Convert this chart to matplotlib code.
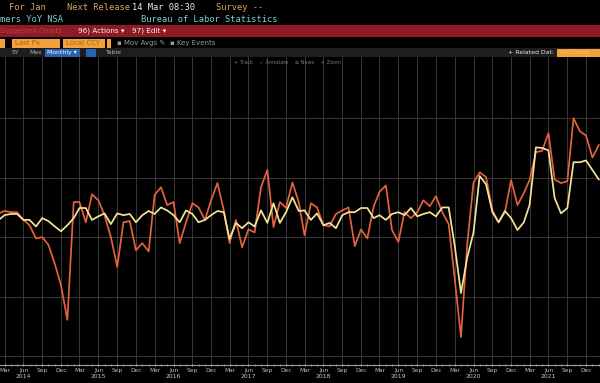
import matplotlib
matplotlib.use('Agg')
import matplotlib.pyplot as plt
import matplotlib.dates as mdates
from matplotlib.patches import Rectangle
import pandas as pd

# monthly readings, Jan 2014 .. Feb 2022 (units of one grid step)
months = pd.date_range('2014-01-01', periods=98, freq='MS')

red_series = [
    0.29, 0.40, 0.44, 0.42, 0.42, 0.29, 0.20, -0.02, 0.00, -0.13,
    -0.45, -0.81, -1.39, 0.59, 0.59, 0.25, 0.72, 0.62, 0.37, 0.00,
    -0.50, 0.25, 0.27, -0.22, -0.10, -0.24, 0.71, 0.84, 0.54, 0.59,
    -0.10, 0.25, 0.57, 0.50, 0.29, 0.62, 0.91, 0.45, -0.10, 0.29,
    -0.17, 0.13, 0.08, 0.84, 1.13, 0.17, 0.59, 0.49, 0.92, 0.59,
    0.03, 0.57, 0.50, 0.20, 0.18, 0.39, 0.45, 0.50, -0.15, 0.13,
    -0.02, 0.52, 0.76, 0.87, 0.12, -0.08, 0.42, 0.32, 0.42, 0.62,
    0.52, 0.69, 0.42, 0.22, -0.69, -1.68, -0.13, 0.92, 1.09, 1.01,
    0.45, 0.25, 0.42, 0.96, 0.54, 0.74, 0.96, 1.43, 1.45, 1.75,
    0.97, 0.91, 0.94, 2.00, 1.78, 1.71, 1.34, 1.55,
]

yellow_series = [
    0.25, 0.29, 0.37, 0.39, 0.39, 0.29, 0.29, 0.18, 0.32, 0.27,
    0.18, 0.10, 0.20, 0.32, 0.49, 0.49, 0.29, 0.35, 0.40, 0.22,
    0.40, 0.37, 0.39, 0.25, 0.37, 0.44, 0.39, 0.50, 0.45, 0.37,
    0.25, 0.45, 0.39, 0.25, 0.29, 0.37, 0.44, 0.42, -0.03, 0.24,
    0.15, 0.25, 0.18, 0.45, 0.24, 0.57, 0.24, 0.42, 0.67, 0.44,
    0.45, 0.29, 0.40, 0.20, 0.24, 0.15, 0.37, 0.42, 0.42, 0.49,
    0.49, 0.32, 0.37, 0.29, 0.39, 0.42, 0.37, 0.49, 0.35, 0.39,
    0.42, 0.35, 0.50, 0.50, -0.13, -0.94, -0.35, 0.08, 1.03, 0.89,
    0.42, 0.25, 0.44, 0.32, 0.12, 0.25, 0.54, 1.51, 1.50, 1.46,
    0.66, 0.40, 0.49, 1.26, 1.26, 1.29, 1.13, 0.97,
]

years = [2014, 2015, 2016, 2017, 2018, 2019, 2020, 2021]
grid_levels = [-2, -1, 0, 1, 2]

W, H = 600, 383
fig = plt.figure(figsize=(6, 3.83), dpi=100, facecolor='black')


def fx(x):
    return x / W


def fy(y):
    return 1 - y / H


def box(x0, y0, x1, y1, color):
    fig.add_artist(Rectangle((fx(x0), fy(y1)), fx(x1) - fx(x0), (y1 - y0) / H,
                             transform=fig.transFigure, facecolor=color,
                             edgecolor='none'))


def label(x, y, s, color, size=5.0, family='DejaVu Sans', **kw):
    fig.text(fx(x), fy(y), s, color=color, fontsize=size, family=family,
             va='center', ha=kw.pop('ha', 'left'), **kw)


# chart area
ax = fig.add_axes([0, fy(365), 1, (365 - 57) / H])
ax.set_facecolor('black')
ax.plot(months, red_series, color='#e6623d', lw=1.25, zorder=3)
ax.plot(months, yellow_series, color='#f4e49a', lw=1.25, zorder=4)

ax.set_xlim(pd.Timestamp('2014-02-07'), pd.Timestamp('2022-02-07'))
ax.set_ylim(-2.15, 3.03)
ax.set_yticks(grid_levels)
ax.tick_params(axis='y', length=0, labelleft=False)

ax.xaxis.set_major_locator(mdates.MonthLocator(bymonth=[3, 6, 9, 12]))
ax.xaxis.set_major_formatter(mdates.DateFormatter('%b'))
ax.xaxis.set_minor_locator(mdates.MonthLocator())
ax.tick_params(axis='x', which='major', colors='#bdbdbd', labelsize=4.2,
               pad=1.5, length=2, direction='inout')
ax.tick_params(axis='x', which='minor', colors='#9a9a9a', length=1.2,
               direction='inout')
ax.grid(True, which='major', color='#424242', lw=0.6)

for side in ['top', 'left', 'right']:
    ax.spines[side].set_visible(False)
ax.spines['bottom'].set_color('#a0a0a0')
ax.spines['bottom'].set_linestyle((0, (2, 1)))
ax.spines['bottom'].set_linewidth(0.8)

for yr in years:
    ax.text(pd.Timestamp(f'{yr}-06-01'), -(376 - 365) / (365 - 57), str(yr),
            transform=ax.get_xaxis_transform(), color='#c8c8c8',
            fontsize=4.4, ha='center', va='center')

ax.text(0.48, 1 - (62 - 57) / (365 - 57),
        '+ Track    \u2713 Annotate    \u2261 News    + Zoom',
        transform=ax.transAxes, color='#7a7a7a', fontsize=3.6,
        ha='center', va='center', family='DejaVu Sans')

# header rows
mono = 'DejaVu Sans Mono'
label(9, 7, 'For Jan', '#d9a35f', 6.3, mono)
label(67, 7, 'Next Release', '#d9a35f', 6.3, mono)
label(132, 7, '14 Mar 08:30', '#ececec', 6.3, mono)
label(216, 7, 'Survey --', '#d9a35f', 6.3, mono)
label(0, 19, 'mers YoY NSA', '#7ccfd0', 6.3, mono)
label(141, 19, 'Bureau of Labor Statistics', '#7ccfd0', 6.3, mono)

box(0, 25, 600, 37, '#8e1a26')
label(0, 31, 'Suggested Charts', '#b5404f', 5.0)
label(78, 31, '96) Actions \u25be', '#f4f4f4', 5.2)
label(132, 31, '97) Edit \u25be', '#f4f4f4', 5.2)

orange = '#f2a23a'
box(0, 38.5, 5, 47.5, orange)
box(12, 38.5, 60, 47.5, orange)
box(63, 38.5, 105, 47.5, orange)
box(107, 38.5, 111, 47.5, orange)
label(15, 43, 'Last Px', '#a8601a', 5.0)
label(66, 43, 'Local CCY', '#a8601a', 5.0)
label(117, 43, '\u25aa Mov Avgs \u270e', '#9a9a9a', 5.0)
label(170, 43, '\u25aa Key Events', '#9a9a9a', 5.0)

box(0, 48, 600, 57, '#1e1e1e')
label(12, 52.5, '5Y', '#b0b0b0', 4.4)
label(29, 52.5, 'Max', '#b0b0b0', 4.4)
box(45, 48.5, 80, 56.5, '#2b62b0')
label(47, 52.5, 'Monthly \u25be', '#ffffff', 4.4)
box(86, 48.5, 96, 56.5, '#2b62b0')
label(106, 52.5, 'Table', '#b0b0b0', 4.4)
label(508, 52.5, '+ Related Dat:', '#e8e8e8', 4.4)
box(557, 48.5, 600, 56.5, orange)
label(560, 52.5, 'Add Data', '#f8c070', 4.4)

fig.savefig('out.png', dpi=100, facecolor='black')
